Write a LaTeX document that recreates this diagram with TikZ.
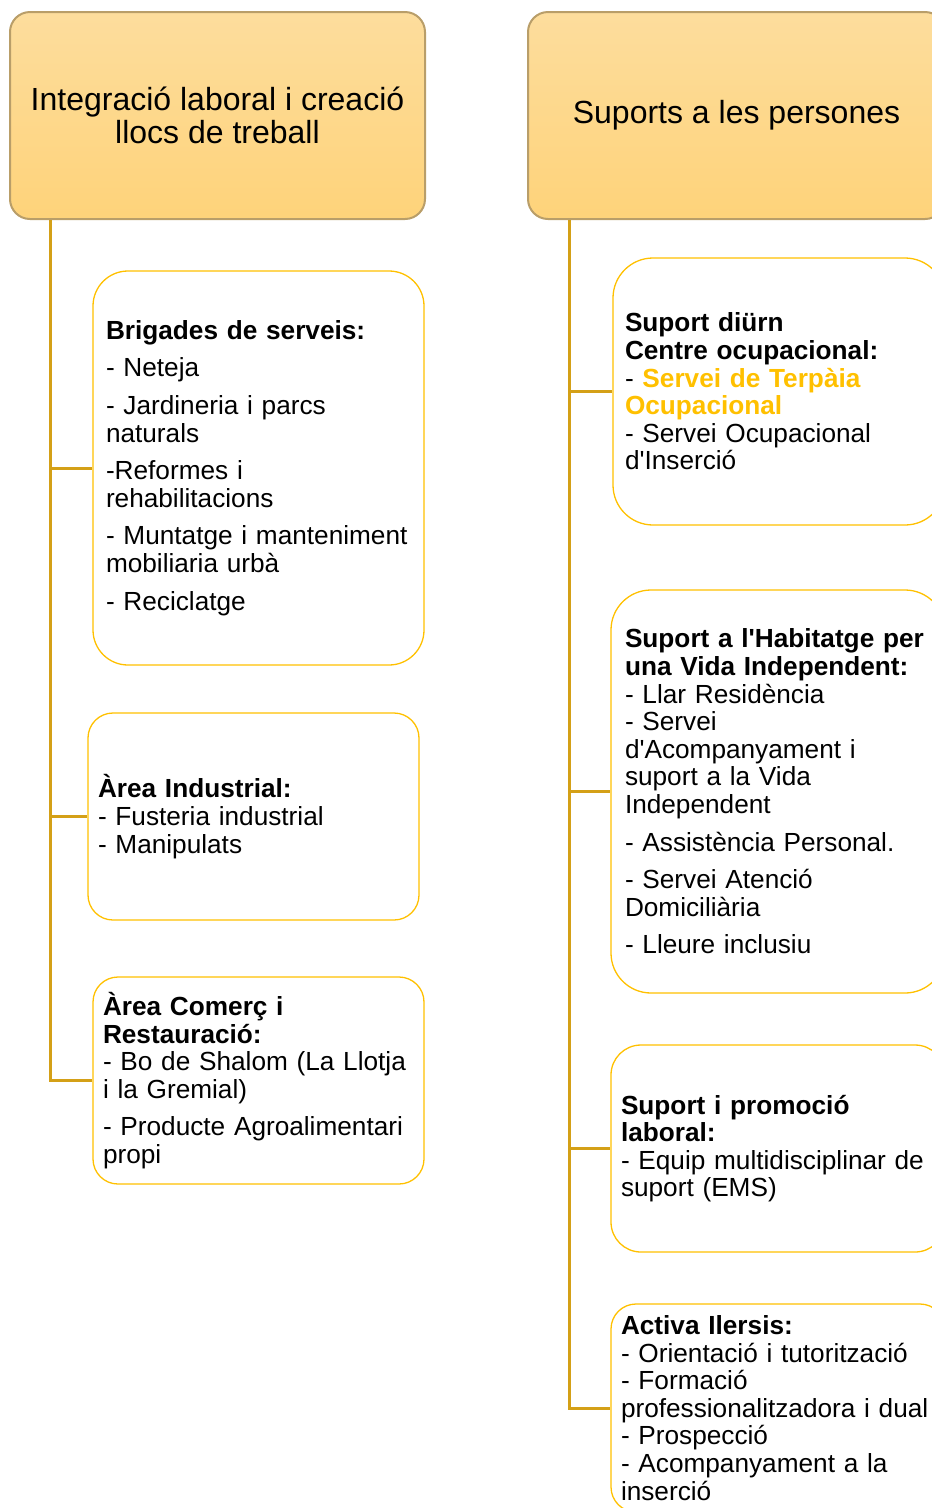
\documentclass[tikz,border=0pt]{standalone}
\usepackage{fontspec}
\setmainfont{Liberation Sans}
\hyphenpenalty=10000
\exhyphenpenalty=10000
\definecolor{mycolor1}{RGB}{253,221,157}
\definecolor{mycolor2}{RGB}{254,211,122}
\definecolor{mycolor3}{RGB}{185,158,105}
\definecolor{mycolor4}{RGB}{255,192,0}
\definecolor{mycolor5}{RGB}{212,160,23}

\begin{document}
\begin{tikzpicture}[x=1pt,y=-1pt]
    \tikzstyle{every node}=[font=\fontsize{26.2}{27.6}\selectfont]
    \tikzstyle{header}=[draw=mycolor3, line width=2pt, rounded corners=20pt, top color=mycolor1, bottom color=mycolor2, align=center, font=\fontsize{32}{33}\selectfont]
    \tikzstyle{item}=[draw=mycolor4, line width=1.3pt, align=left, inner ysep=0pt]
    \tikzstyle{trunk}=[draw=mycolor5, line width=3pt]

    \useasboundingbox (0,0) rectangle (932,1508);
    \clip (0,0) rectangle (932,1508);

    % Headers
    \node[header, minimum width=415, minimum height=207] at (217.5,115.5) (intl) {Integració laboral i creació\\llocs de treball};
    \node[header, minimum width=417, minimum height=207] at (736.5,115.5) (supp) {Suports a les persones};

    % Left column
    \node[item, rounded corners=35pt, inner xsep=13pt, text width=305pt, minimum height=394] at (258.5,468) (brig)
        {\textbf{Brigades de serveis:}\\[10pt]- Neteja\\[10pt]- Jardineria i parcs\\naturals\\[10pt]-Reformes i\\rehabilitacions\\[10pt]- Muntatge i manteniment\\mobiliaria urbà\\[10pt]- Reciclatge};
    \node[item, rounded corners=25pt, inner xsep=10pt, text width=311pt, minimum height=207] at (253.5,816.5) (indu)
        {\textbf{Àrea Industrial:}\\- Fusteria industrial\\- Manipulats};
    \node[item, rounded corners=25pt, inner xsep=10pt, text width=311pt, minimum height=207] at (258.5,1080.5) (come)
        {\textbf{Àrea Comerç i}\\\textbf{Restauració:}\\- Bo de Shalom (La Llotja\\i la Gremial)\\[10pt]- Producte Agroalimentari\\propi};

    % Right column
    \node[item, rounded corners=40pt, inner xsep=12pt, text width=308pt, minimum height=267] at (779,391.5) (diur)
        {\textbf{Suport diürn}\\\textbf{Centre ocupacional:}\\- \textcolor{mycolor4}{\textbf{Servei de Terpàia}}\\\textcolor{mycolor4}{\textbf{Ocupacional}}\\- Servei Ocupacional\\d\textquotesingle Inserció};
    \node[item, rounded corners=40pt, inner xsep=14pt, text width=306pt, minimum height=403] at (778,791.5) (habi)
        {\textbf{Suport a l\textquotesingle Habitatge per}\\\textbf{una Vida Independent:}\\- Llar Residència\\- Servei\\d\textquotesingle Acompanyament i\\suport a la Vida\\Independent\\[10pt]- Assistència Personal.\\[10pt]- Servei Atenció\\Domiciliària\\[10pt]- Lleure inclusiu};
    \node[item, rounded corners=30pt, inner xsep=10pt, text width=314pt, minimum height=207] at (778,1148.5) (prom)
        {\textbf{Suport i promoció}\\\textbf{laboral:}\\- Equip multidisciplinar de\\suport (EMS)};
    \node[item, rounded corners=25pt, inner xsep=10pt, text width=314pt, minimum height=208] at (778,1408) (acti)
        {\textbf{Activa Ilersis:}\\- Orientació i tutorització\\- Formació\\professionalitzadora i dual\\- Prospecció\\- Acompanyament a la\\inserció};

    % Trunks
    \coordinate (lt) at ([xshift=41pt]intl.south west);
    \coordinate (rt) at ([xshift=42pt]supp.south west);

    \draw[trunk] (lt) |- (brig.west);
    \draw[trunk] (lt) |- (indu.west);
    \draw[trunk] (lt) |- (come.west);

    \draw[trunk] (rt) |- (diur.west);
    \draw[trunk] (rt) |- (habi.west);
    \draw[trunk] (rt) |- (prom.west);
    \draw[trunk] (rt) |- (acti.west);

\end{tikzpicture}
\end{document}
